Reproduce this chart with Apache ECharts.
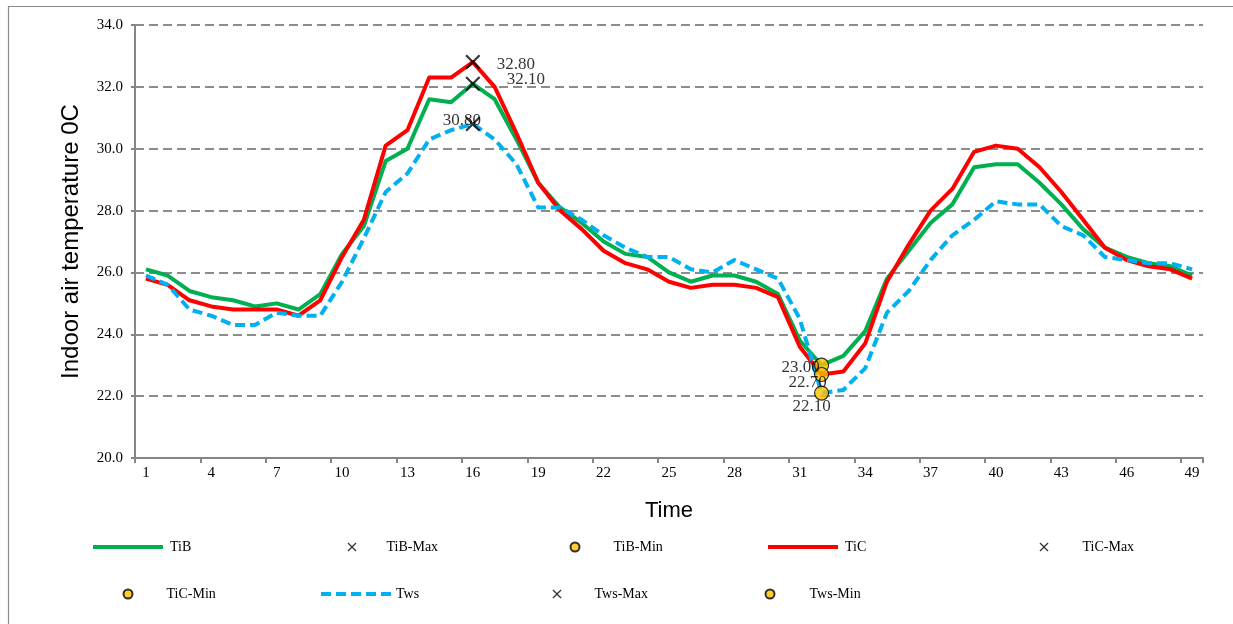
<!DOCTYPE html>
<html>
<head>
<meta charset="utf-8">
<title>Indoor air temperature</title>
<script src="https://cdn.jsdelivr.net/npm/echarts@6/dist/echarts.min.js"></script>
<style>
  html, body { margin: 0; padding: 0; background: #fff; }
  #chart { width: 1233px; height: 624px; }
</style>
</head>
<body>
<div id="chart"></div>
<script>
// Time steps along the x axis
const timeSteps = ['1','2','3','4','5','6','7','8','9','10','11','12','13','14','15','16','17',
  '18','19','20','21','22','23','24','25','26','27','28','29','30','31','32','33','34','35',
  '36','37','38','39','40','41','42','43','44','45','46','47','48','49'];

// Indoor air temperatures (°C)
const tiB = [26.1, 25.9, 25.4, 25.2, 25.1, 24.9, 25.0, 24.8, 25.3, 26.6, 27.5, 29.6, 30.0, 31.6, 31.5, 32.1,
  31.6, 30.3, 28.9, 28.1, 27.6, 27.0, 26.6, 26.5, 26.0, 25.7, 25.9, 25.9, 25.7, 25.3, 23.8, 23.0,
  23.3, 24.1, 25.8, 26.7, 27.6, 28.2, 29.4, 29.5, 29.5, 28.9, 28.2, 27.4, 26.8, 26.5, 26.3, 26.2, 25.9];
const tiC = [25.8, 25.6, 25.1, 24.9, 24.8, 24.8, 24.8, 24.6, 25.1, 26.5, 27.7, 30.1, 30.6, 32.3, 32.3, 32.8,
  32.0, 30.5, 28.9, 28.0, 27.4, 26.7, 26.3, 26.1, 25.7, 25.5, 25.6, 25.6, 25.5, 25.2, 23.6, 22.7,
  22.8, 23.7, 25.7, 26.9, 28.0, 28.7, 29.9, 30.1, 30.0, 29.4, 28.6, 27.7, 26.8, 26.4, 26.2, 26.1, 25.8];
const tws = [25.9, 25.6, 24.8, 24.6, 24.3, 24.3, 24.7, 24.6, 24.6, 25.7, 27.1, 28.6, 29.2, 30.3, 30.6, 30.8,
  30.3, 29.5, 28.1, 28.1, 27.7, 27.2, 26.8, 26.5, 26.5, 26.1, 26.0, 26.4, 26.1, 25.8, 24.5, 22.1,
  22.2, 22.9, 24.7, 25.4, 26.4, 27.2, 27.7, 28.3, 28.2, 28.2, 27.5, 27.2, 26.5, 26.4, 26.3, 26.3, 26.1];

// Extremes: [time step, temperature]
const tiBMax = ['16', 32.1];
const tiBMin = ['32', 23.0];
const tiCMax = ['16', 32.8];
const tiCMin = ['32', 22.7];
const twsMax = ['16', 30.8];
const twsMin = ['32', 22.1];

// Y axis range and step
const yMin = 20, yMax = 34, yStep = 2;

const serif = 'Liberation Serif';
const crossPath = 'path://M0,10L10,0L50,40L90,0L100,10L60,50L100,90L90,100L50,60L10,100L0,90L40,50Z';
// Legend swatches: solid bar and a dashed bar
const solidIcon = 'path://M0,0H70V4H0Z';
const dashedIcon = 'path://M0,0H10V4H0Z M15,0H25V4H15Z M30,0H40V4H30Z M45,0H55V4H45Z M60,0H70V4H60Z';

function lineSeries(name, data, color, dashed) {
  return {
    name, type: 'line', data, symbol: 'none', showSymbol: false, z: 2,
    lineStyle: { color, width: 4, type: dashed ? [10, 5] : 'solid', cap: 'butt', join: 'round' },
    itemStyle: { color }
  };
}

function maxSeries(name, point, offset) {
  return {
    name, type: 'scatter', data: [point], z: 5,
    symbol: crossPath, symbolSize: 15,
    itemStyle: { color: '#000' },
    label: {
      show: true, position: 'inside', offset,
      formatter: p => p.value[1].toFixed(2),
      fontFamily: serif, fontSize: 17, color: '#000'
    }
  };
}

function minSeries(name, point, offset) {
  return {
    name, type: 'scatter', data: [point], z: 5,
    symbol: 'circle', symbolSize: 14,
    itemStyle: { color: '#FFC000', borderColor: '#000', borderWidth: 1.2 },
    label: {
      show: true, position: 'inside', offset,
      formatter: p => p.value[1].toFixed(2),
      fontFamily: serif, fontSize: 17, color: '#000'
    }
  };
}

function legendLine(name, left, top, icon, pad) {
  return {
    data: [{ name, icon }], left, top, padding: 0, itemWidth: 70, itemHeight: 4, selectedMode: false,
    textStyle: { fontFamily: serif, fontSize: 14, color: '#000', padding: [0, 0, 0, pad] }
  };
}

function legendMark(name, left, top, pad) {
  return {
    data: [name], left, top, padding: 0, itemWidth: 9, itemHeight: 9, selectedMode: false,
    textStyle: { fontFamily: serif, fontSize: 14, color: '#000', padding: [0, 0, 0, pad] }
  };
}

const chart = echarts.init(document.getElementById('chart'), null, { renderer: 'canvas' });

chart.setOption({
  animation: false,
  backgroundColor: '#fff',
  graphic: [{
    type: 'rect', silent: true, z: -1,
    shape: { x: 8.5, y: 6.5, width: 1240, height: 640 },
    style: { fill: 'none', stroke: '#8a8a8a', lineWidth: 1.2 }
  }],
  grid: { left: 135, right: 30, top: 25, bottom: 166 },
  legend: [
    legendLine('TiB', 93, 540, solidIcon, 2),
    legendMark('TiB-Max', 347.5, 540, 25),
    legendMark('TiB-Min', 569.5, 540, 29),
    legendLine('TiC', 768, 540, solidIcon, 2),
    legendMark('TiC-Max', 1039.5, 540, 29),
    legendMark('TiC-Min', 122.5, 587, 29),
    legendLine('Tws', 321, 587, dashedIcon, 0),
    legendMark('Tws-Max', 552.5, 587, 28),
    legendMark('Tws-Min', 764.5, 587, 30)
  ],
  xAxis: {
    type: 'category', data: timeSteps, boundaryGap: true,
    name: 'Time', nameLocation: 'middle', nameGap: 42,
    nameTextStyle: { fontFamily: 'Liberation Sans', fontSize: 22, color: '#000' },
    axisLine: { lineStyle: { color: '#868686', width: 2 } },
    axisTick: { show: true, interval: 2, length: 5, lineStyle: { color: '#868686', width: 2 } },
    axisLabel: { interval: 2, margin: 8, fontFamily: serif, fontSize: 15, color: '#000' },
    splitLine: { show: false }
  },
  yAxis: {
    type: 'value', min: yMin, max: yMax, interval: yStep,
    name: 'Indoor air temperature 0C', nameLocation: 'middle', nameGap: 52, nameRotate: 90,
    nameTextStyle: { fontFamily: 'Liberation Sans', fontSize: 24, color: '#000' },
    axisLine: { show: true, lineStyle: { color: '#868686', width: 2 } },
    axisTick: { show: true, length: 4, lineStyle: { color: '#868686', width: 2 } },
    axisLabel: { margin: 12, fontFamily: serif, fontSize: 15, color: '#000', formatter: v => v.toFixed(1) },
    splitLine: { show: true, lineStyle: { color: '#8c8c8c', width: 2, type: [9, 5] } }
  },
  series: [
    lineSeries('TiB', tiB, '#00B050', false),
    maxSeries('TiB-Max', tiBMax, [53, -4]),
    minSeries('TiB-Min', tiBMin, [-21, 2]),
    lineSeries('TiC', tiC, '#FF0000', false),
    maxSeries('TiC-Max', tiCMax, [43, 2]),
    minSeries('TiC-Min', tiCMin, [-14, 8]),
    lineSeries('Tws', tws, '#00B0F0', true),
    maxSeries('Tws-Max', twsMax, [-11, -3]),
    minSeries('Tws-Min', twsMin, [-10, 13])
  ]
});
</script>
</body>
</html>
